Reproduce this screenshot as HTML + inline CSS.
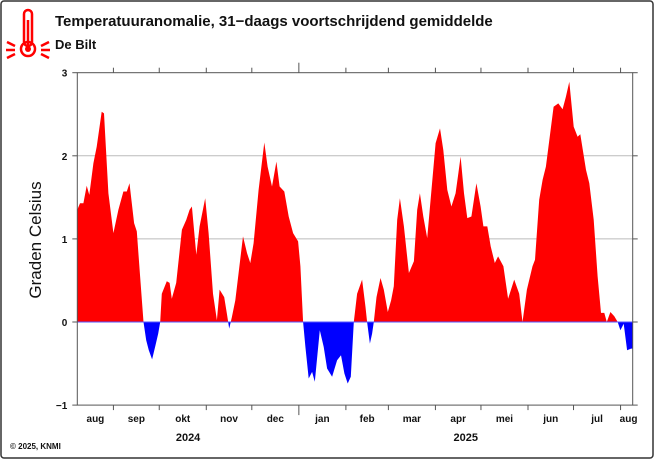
<!DOCTYPE html>
<html><head><meta charset="utf-8"><style>
html,body{margin:0;padding:0;background:#fff}
svg{display:block;font-family:"Liberation Sans",sans-serif}
</style></head><body>
<svg id="chart" width="654" height="459" viewBox="0 0 654 459" xmlns="http://www.w3.org/2000/svg">
<rect x="1" y="1" width="652" height="457" rx="3" fill="#fff" stroke="#333" stroke-width="1.5"/>
<g fill="none" stroke="#f00" stroke-width="2.5">
<rect x="24" y="10" width="8" height="36" rx="4"/>
<circle cx="28" cy="49" r="7"/>
<circle cx="28" cy="49" r="3" fill="#f00" stroke="none"/>
<line x1="28" y1="20" x2="28" y2="46"/>
<line x1="7" y1="42" x2="15" y2="46"/><line x1="6" y1="50" x2="15" y2="50"/><line x1="7" y1="58" x2="15" y2="54"/>
<line x1="49" y1="42" x2="41" y2="46"/><line x1="50" y1="50" x2="41" y2="50"/><line x1="49" y1="58" x2="41" y2="54"/>
</g>
<text x="55" y="26" font-size="15" font-weight="bold" fill="#111">Temperatuuranomalie, 31−daags voortschrijdend gemiddelde</text>
<text x="55" y="49" font-size="13" font-weight="bold" fill="#111">De Bilt</text>
<text x="41" y="240" font-size="17" fill="#111" text-anchor="middle" transform="rotate(-90 41 240)">Graden Celsius</text>
<text x="10" y="449" font-size="8" font-weight="bold" fill="#111">© 2025, KNMI</text>
<g id="plot"></g>
</svg>
<script>
const days=[0,1.8,4,6.2,7.9,10.6,12.8,16.1,17.6,20.5,23.8,27.1,30.4,32.6,34.4,37.4,39.2,41.4,43.6,45.4,47.1,49.3,51.5,53.3,54.6,55.7,59,60.8,62.3,65.2,68.9,71.8,74,75.5,78.4,80.6,84.3,86.5,89.4,92,93.8,96.8,98.6,100.1,101.9,104.1,106.3,109.2,111.8,114,116.2,119.5,123.2,125.4,128.3,131.2,133.3,136.4,139.3,142.2,145.5,147,148.8,150.3,152.5,154.7,156.5,159.8,162.4,164.6,167.9,171.2,173.8,176,178.2,180.2,182.2,184.4,187.7,189.9,191,192.8,194.3,195.4,197.2,199.8,202,204.6,206.8,208.6,210.8,212.6,215.2,218.5,221.8,224,225.8,228,230.6,232.8,236.1,239,241.2,243.8,246.5,249.3,250.8,252.6,254.8,257,259.7,263,265.8,267.6,270.2,272.4,275.1,277.3,280.8,283.9,287.9,291.2,293.4,296.3,300,301.6,304.4,306.6,308.8,313.9,317,319.8,322,324.2,327.1,329.7,331.5,335.2,337.4,340.3,342.9,345.1,347.3,348.9,351.3,353.9,356.1,357.9,360.1,362.3,364.9,366];
const values=[1.35,1.43,1.43,1.64,1.53,1.91,2.11,2.53,2.51,1.55,1.07,1.35,1.57,1.57,1.67,1.19,1.09,0.55,0,-0.22,-0.34,-0.45,-0.28,-0.14,0,0.34,0.49,0.47,0.28,0.47,1.11,1.23,1.35,1.39,0.81,1.15,1.49,1.07,0.34,0.02,0.39,0.30,0.10,-0.08,0.06,0.26,0.59,1.03,0.83,0.71,0.95,1.59,2.16,1.87,1.63,1.93,1.63,1.57,1.27,1.07,0.97,0.67,0,-0.30,-0.68,-0.60,-0.72,-0.10,-0.30,-0.56,-0.66,-0.46,-0.40,-0.62,-0.74,-0.66,0,0.34,0.51,0.18,0,-0.26,-0.14,0,0.30,0.53,0.39,0.12,0.26,0.43,1.23,1.49,1.15,0.59,0.73,1.35,1.55,1.27,1.01,1.47,2.15,2.33,2.07,1.59,1.39,1.55,1.75,1.99,1.55,1.25,1.27,1.67,1.39,1.15,1.15,0.91,0.71,0.79,0.67,0.28,0.51,0.34,0,0.39,0.67,0.75,1.47,1.71,1.87,2.59,2.63,2.56,2.71,2.89,2.35,2.23,2.26,1.83,1.67,1.23,0.55,0.11,0.11,0,0.12,0.07,0,-0.10,-0.02,-0.34,-0.32,-0.32];
const monthTicks=[23.8,54,85,115,146,177,205,236,266,297,327,358];
const yearTickIndex=4;
const monthLabels=["aug","sep","okt","nov","dec","jan","feb","mar","apr","mei","jun","jul","aug"];
const yTicks=[-1,0,1,2,3];
const yearLabels=["2024","2025"];
const X0=77.3,X1=632.7,DAYS=366;
const x=d=>X0+d*(X1-X0)/DAYS;
const y=v=>322-v*83.1;
const NS="http://www.w3.org/2000/svg";
const g=document.getElementById('plot');
function mk(t,a){const e=document.createElementNS(NS,t);for(const k in a)e.setAttribute(k,a[k]);g.appendChild(e);return e;}
// grid
[1,2].forEach(v=>{const l=mk('line',{x1:X0,x2:X1,y1:y(v),y2:y(v),stroke:'#bbb','stroke-width':1});

});
// clip paths
const defs=mk('defs',{});
defs.innerHTML='<clipPath id="cpPos"><rect x="0" y="0" width="654" height="'+y(0)+'"/></clipPath><clipPath id="cpNeg"><rect x="0" y="'+y(0)+'" width="654" height="200"/></clipPath>';
let pts=x(days[0])+','+y(0)+' ';
days.forEach((d,i)=>{pts+=x(d).toFixed(1)+','+y(values[i]).toFixed(1)+' ';});
pts+=x(days[days.length-1])+','+y(0);
const pos=mk('polygon',{points:pts,fill:'#f00','clip-path':'url(#cpPos)'});


const neg=mk('polygon',{points:pts,fill:'#00f','clip-path':'url(#cpNeg)'});


const zl=mk('line',{x1:X0,x2:X1,y1:y(0),y2:y(0),stroke:'#55f','stroke-width':1});


// axes box
const ax=mk('rect',{x:X0,y:y(3),width:X1-X0,height:y(-1)-y(3),fill:'none',stroke:'#555','stroke-width':1});


// y ticks
yTicks.forEach(v=>{
 mk('line',{x1:X0-5,x2:X0,y1:y(v),y2:y(v),stroke:'#555'});
 mk('line',{x1:X1,x2:X1+5,y1:y(v),y2:y(v),stroke:'#555'});
 const t=mk('text',{x:X0-10,y:y(v)+4,'font-size':10,'font-weight':'bold','text-anchor':'end',fill:'#111'});
 t.textContent=v<0?'−'+Math.abs(v):String(v);
 
 
});
// month ticks
monthTicks.forEach((d,i)=>{
 const len=i===yearTickIndex?10:5;
 mk('line',{x1:x(d),x2:x(d),y1:y(3)-len,y2:y(3),stroke:'#555'});
 mk('line',{x1:x(d),x2:x(d),y1:y(-1),y2:y(-1)+len,stroke:'#555'});
});
const bounds=[0].concat(monthTicks).concat([DAYS]);
monthLabels.forEach((m,i)=>{
 let cx=(x(bounds[i])+x(bounds[i+1]))/2;
 if(i===0)cx=x(bounds[1])-18; if(i===monthLabels.length-1)cx=x(bounds[i])+8;
 const t=mk('text',{x:cx,y:422,'font-size':10,'font-weight':'bold','text-anchor':'middle',fill:'#111'});
 t.textContent=m;
 
 
});
yearLabels.forEach((yr,i)=>{
 const cx=i===0?(x(0)+x(monthTicks[yearTickIndex]))/2:(x(monthTicks[yearTickIndex])+x(DAYS))/2;
 const t=mk('text',{x:cx,y:441,'font-size':11,'font-weight':'bold','text-anchor':'middle',fill:'#111'});
 t.textContent=yr;
 
 
});
</script>
</body></html>
